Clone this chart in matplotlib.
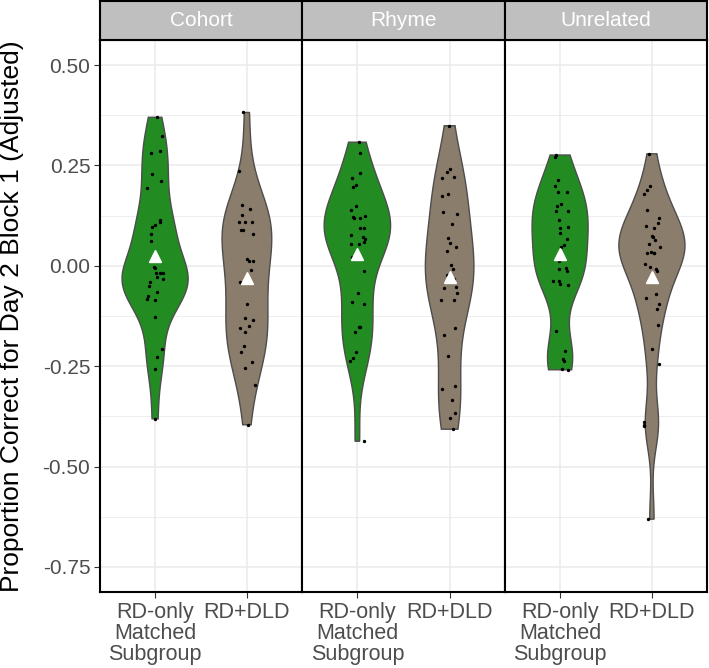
import numpy as np
import matplotlib
matplotlib.use("Agg")
from matplotlib import pyplot as plt

plt.rcParams["font.family"] = ["Liberation Sans", "DejaVu Sans"]

# Werte
panels = ["Cohort", "Rhyme", "Unrelated"]
groups = ["RD-only\nMatched\nSubgroup", "RD+DLD"]

cohort_rd = [0.370, 0.324, 0.286, 0.281, 0.228, 0.212, 0.194, 0.115, 0.109, 0.102,
             0.097, 0.080, 0.063, -0.002, -0.005, -0.018, -0.018, -0.018, -0.027,
             -0.033, -0.040, -0.050, -0.066, -0.076, -0.082, -0.085, -0.128, -0.206,
             -0.226, -0.256, -0.381]
cohort_dld = [0.382, 0.237, 0.152, 0.141, 0.127, 0.108, 0.108, 0.108, 0.088, 0.088,
              0.079, 0.017, 0.013, 0.012, -0.010, -0.040, -0.042, -0.094, -0.134,
              -0.131, -0.149, -0.156, -0.164, -0.199, -0.215, -0.239, -0.255, -0.296,
              -0.396]
rhyme_rd = [0.308, 0.281, 0.231, 0.218, 0.202, 0.196, 0.148, 0.138, 0.125, 0.122,
            0.120, 0.118, 0.095, 0.095, 0.076, 0.073, 0.068, 0.060, 0.055, 0.055,
            0.022, -0.012, -0.068, -0.090, -0.095, -0.153, -0.153, -0.164, -0.215,
            -0.230, -0.236, -0.437]
rhyme_dld = [0.349, 0.242, 0.234, 0.222, 0.218, 0.179, 0.174, 0.134, 0.129, 0.104,
             0.069, 0.057, 0.048, 0.036, 0.002, -0.007, -0.023, -0.028, -0.032,
             -0.052, -0.056, -0.068, -0.085, -0.085, -0.154, -0.172, -0.224, -0.299,
             -0.308, -0.333, -0.366, -0.379, -0.407]
unrel_rd = [0.276, 0.271, 0.214, 0.198, 0.185, 0.185, 0.153, 0.149, 0.137, 0.136,
            0.113, 0.097, 0.093, 0.081, 0.066, 0.051, 0.047, 0.011, -0.006, -0.008,
            -0.012, -0.037, -0.037, -0.045, -0.047, -0.162, -0.212, -0.232, -0.237,
            -0.256, -0.259]
unrel_dld = [0.279, 0.199, 0.189, 0.179, 0.138, 0.119, 0.106, 0.098, 0.095, 0.075,
             0.071, 0.065, 0.054, 0.047, 0.035, 0.032, 0.032, 0.032, 0.004, -0.002,
             -0.008, -0.012, -0.070, -0.079, -0.095, -0.108, -0.147, -0.207, -0.244,
             -0.388, -0.396, -0.398, -0.631]

data = [[cohort_rd, cohort_dld], [rhyme_rd, rhyme_dld], [unrel_rd, unrel_dld]]
fills = ["#228B22", "#8B7D6B"]


def r_density(vals):
    # wie density() in R: Gauss-Kern, bw.nrd0, auf Datenbereich gekuerzt
    x = np.asarray(vals)
    n = len(x)
    sd = x.std(ddof=1)
    iqr = np.percentile(x, 75) - np.percentile(x, 25)
    bw = 0.9 * min(sd, iqr / 1.34) * n ** -0.2
    grid = np.linspace(x.min(), x.max(), 512)
    z = (grid[:, None] - x[None, :]) / bw
    dens = np.exp(-0.5 * z ** 2).sum(axis=1) / (n * bw * np.sqrt(2 * np.pi))
    return grid, dens


W, H = 709, 668
fig = plt.figure(figsize=(W / 100, H / 100), dpi=100)

edges = [100, 302, 505, 707]
top, bottom = 40, 592
rng = np.random.default_rng(7)

for i, name in enumerate(panels):
    x0, x1 = edges[i], edges[i + 1]
    ax = fig.add_axes([x0 / W, 1 - bottom / H, (x1 - x0) / W, (bottom - top) / H])
    ax.set_xlim(0.4, 2.6)
    ax.set_ylim(-0.8125, 0.5625)

    for v in np.arange(-0.75, 0.51, 0.25):
        ax.axhline(v, color="#EBEBEB", lw=1.1, zorder=0)
    for v in np.arange(-0.625, 0.5, 0.25):
        ax.axhline(v, color="#EBEBEB", lw=0.6, zorder=0)
    for v in [1, 2]:
        ax.axvline(v, color="#EBEBEB", lw=1.1, zorder=0)

    dens_list = [r_density(g) for g in data[i]]
    dmax = max(d.max() for _, d in dens_list)
    for j, (grid, dens) in enumerate(dens_list):
        xc = j + 1
        w = 0.36 * dens / dmax
        xs = np.concatenate([xc + w, (xc - w)[::-1]])
        ys = np.concatenate([grid, grid[::-1]])
        ax.fill(xs, ys, facecolor=fills[j], edgecolor="#4D4D4D", lw=1.0, zorder=2)

        vals = np.asarray(data[i][j])
        jit = rng.uniform(-0.09, 0.09, len(vals))
        ax.scatter(xc + jit, vals, s=6, color="black", zorder=3, linewidths=0)
        ax.plot([xc], [vals.mean()], marker="^", ms=9, color="white",
                markeredgecolor="white", zorder=4)

    ax.set_xticks([1, 2])
    ax.set_xticklabels(groups, fontsize=15.5, color="#4D4D4D", linespacing=1.0)
    ax.tick_params(axis="x", length=4, width=0.8, color="#333333", pad=3)
    if i == 0:
        ax.set_yticks([0.5, 0.25, 0.0, -0.25, -0.5, -0.75])
        ax.set_yticklabels(["0.50", "0.25", "0.00", "-0.25", "-0.50", "-0.75"],
                           fontsize=15, color="#4D4D4D")
        ax.tick_params(axis="y", length=4, width=0.8, color="#333333", pad=3)
    else:
        ax.set_yticks([])
    for s in ax.spines.values():
        s.set_color("black")
        s.set_linewidth(1.5)

    # Streifen mit Titel
    sax = fig.add_axes([x0 / W, 1 - top / H, (x1 - x0) / W, (top - 1) / H])
    sax.set_facecolor("#BFBFBF")
    sax.set_xticks([])
    sax.set_yticks([])
    for s in sax.spines.values():
        s.set_color("black")
        s.set_linewidth(1.5)
    sax.text(0.5, 0.5, name, ha="center", va="center", color="white",
             fontsize=15, transform=sax.transAxes)

fig.text(12 / W, 1 - ((top + bottom) / 2) / H,
         "Proportion Correct for Day 2 Block 1 (Adjusted)",
         rotation=90, ha="center", va="center", fontsize=19, color="black")

fig.savefig("out.png", dpi=100)
